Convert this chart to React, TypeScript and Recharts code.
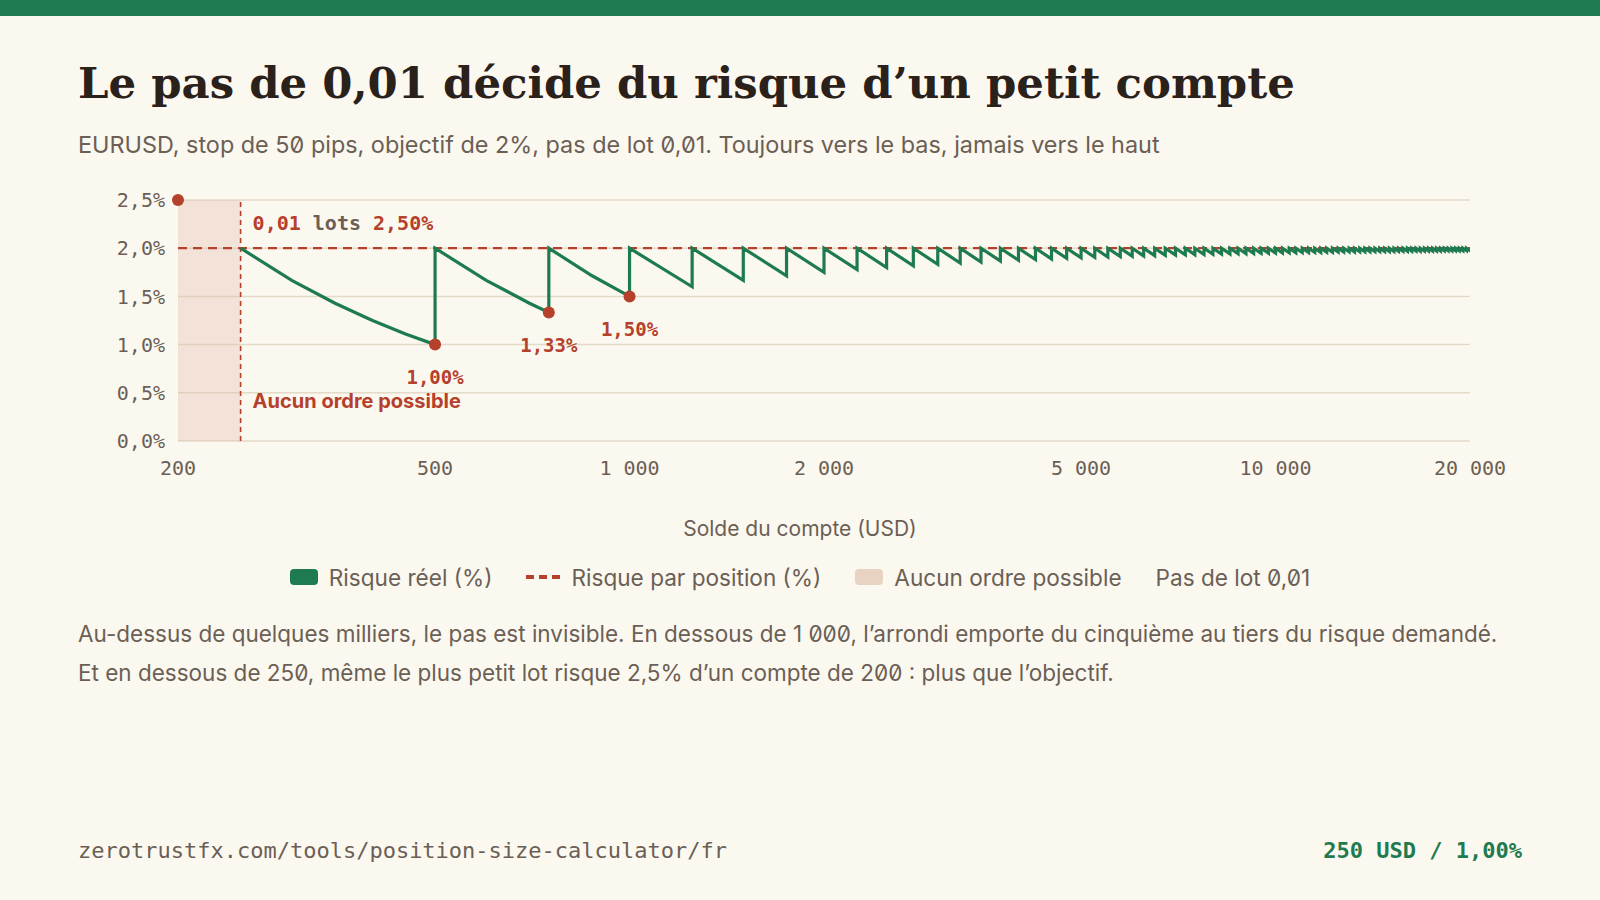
import {
  CartesianGrid,
  Line,
  LineChart,
  ReferenceArea,
  ReferenceDot,
  ReferenceLine,
  XAxis,
  YAxis,
} from 'recharts'

const BG = '#fbf8f0'
const GREEN = '#1e7b4f'
const RED = '#b5402b'
const INK = '#2a211b'
const MUTED = '#6b5f55'
const GRID = '#e4dac8'
const MONO = '"DejaVu Sans Mono", "Liberation Mono", monospace'
const SANS = 'Inter, "Noto Sans", sans-serif'

// target risk per position (%)
const TARGET_RISK = 2
// 0.01 lot on a 200 USD account
const MIN_LOT_RISK = 2.5

// balances where the lot count steps up by 0.01
const TOOTH_START = [
  250, 500, 750, 1000, 1250, 1500, 1750, 2000, 2250, 2500,
  2750, 3000, 3250, 3500, 3750, 4000, 4250, 4500, 4750, 5000,
  5250, 5500, 5750, 6000, 6250, 6500, 6750, 7000, 7250, 7500,
  7750, 8000, 8250, 8500, 8750, 9000, 9250, 9500, 9750, 10000,
  10250, 10500, 10750, 11000, 11250, 11500, 11750, 12000, 12250, 12500,
  12750, 13000, 13250, 13500, 13750, 14000, 14250, 14500, 14750, 15000,
  15250, 15500, 15750, 16000, 16250, 16500, 16750, 17000, 17250, 17500,
  17750, 18000, 18250, 18500, 18750, 19000, 19250, 19500, 19750, 20000,
]

// real risk just before the next step (%)
const TOOTH_LOW = [
  1.0, 1.333, 1.5, 1.6, 1.667, 1.714, 1.75, 1.778, 1.8, 1.818,
  1.833, 1.846, 1.857, 1.867, 1.875, 1.882, 1.889, 1.895, 1.9, 1.905,
  1.909, 1.913, 1.917, 1.92, 1.923, 1.926, 1.929, 1.931, 1.933, 1.935,
  1.938, 1.939, 1.941, 1.943, 1.944, 1.946, 1.947, 1.949, 1.95, 1.951,
  1.952, 1.953, 1.955, 1.956, 1.957, 1.957, 1.958, 1.959, 1.96, 1.961,
  1.962, 1.962, 1.963, 1.964, 1.964, 1.965, 1.966, 1.966, 1.967, 1.967,
  1.968, 1.968, 1.969, 1.969, 1.97, 1.97, 1.971, 1.971, 1.971, 1.972,
  1.972, 1.973, 1.973, 1.973, 1.974, 1.974, 1.974, 1.975, 1.975,
]

// extra points on the first, wider teeth so the curve bends
const CURVE_BALANCE = [300, 350, 400, 450, 600, 700, 875]
const CURVE_RISK = [1.667, 1.429, 1.25, 1.111, 1.667, 1.429, 1.714]

const MARK_BALANCE = [500, 750, 1000]
const MARK_RISK = [1.0, 1.333, 1.5]
const MARK_LABEL = ['1,00%', '1,33%', '1,50%']

const X_TICKS = [200, 500, 1000, 2000, 5000, 10000, 20000]
const X_LABELS = ['200', '500', '1 000', '2 000', '5 000', '10 000', '20 000']
const Y_TICKS = [0, 0.5, 1, 1.5, 2, 2.5]

const SERIES: { x: number; y: number }[] = []
for (let i = 0; i < TOOTH_LOW.length; i++) {
  const a = TOOTH_START[i]
  const b = TOOTH_START[i + 1]
  SERIES.push({ x: a, y: TARGET_RISK })
  CURVE_BALANCE.forEach((c, j) => {
    if (c > a && c < b) SERIES.push({ x: c, y: CURVE_RISK[j] })
  })
  SERIES.push({ x: b, y: TOOTH_LOW[i] })
}
SERIES.push({ x: TOOTH_START[TOOTH_START.length - 1], y: TARGET_RISK })

const pct = (v: number) => `${v.toFixed(1).replace('.', ',')}%`

function ZoneLabel(props: any) {
  const vb = props.viewBox
  if (!vb) return null
  return (
    <g>
      <text x={vb.x + 12} y={vb.y + 30} fontFamily={MONO} fontSize={20} fontWeight={700}>
        <tspan fill={RED}>0,01</tspan>
        <tspan fill={MUTED}> lots </tspan>
        <tspan fill={RED}>2,50%</tspan>
      </text>
      <text x={vb.x + 12} y={vb.y + vb.height - 33} fontFamily={SANS} fontSize={20} fontWeight={700} fill={RED}>
        Aucun ordre possible
      </text>
    </g>
  )
}

function RiskChart() {
  return (
    <LineChart width={1600} height={310} margin={{ top: 20, right: 130, bottom: 0, left: 0 }}>
      <ReferenceArea x1={200} x2={250} y1={0} y2={2.5} fill="#e1b9ab" fillOpacity={0.35} stroke="none" />
      <CartesianGrid stroke={GRID} strokeWidth={1.5} vertical={false} />
      <XAxis
        type="number"
        dataKey="x"
        scale="log"
        domain={[200, 20000]}
        allowDataOverflow
        ticks={X_TICKS}
        tickFormatter={(v) => X_LABELS[X_TICKS.indexOf(v)] ?? String(v)}
        tick={{ fill: MUTED, fontSize: 20, fontFamily: MONO }}
        tickLine={false}
        axisLine={false}
        tickSize={0}
        tickMargin={20}
        height={49}
      />
      <YAxis
        type="number"
        domain={[0, 2.5]}
        ticks={Y_TICKS}
        tickFormatter={pct}
        tick={{ fill: MUTED, fontSize: 20, fontFamily: MONO }}
        tickLine={false}
        axisLine={false}
        tickSize={0}
        tickMargin={13}
        width={178}
      />
      <ReferenceLine y={TARGET_RISK} stroke={RED} strokeWidth={2.2} strokeDasharray="9 6" />
      <ReferenceLine x={250} stroke={RED} strokeWidth={1.6} strokeDasharray="5 4" label={ZoneLabel} />
      <Line
        data={SERIES}
        dataKey="y"
        type="linear"
        stroke={GREEN}
        strokeWidth={3.2}
        dot={false}
        isAnimationActive={false}
      />
      <ReferenceDot x={200} y={MIN_LOT_RISK} r={6} fill={RED} stroke="none" ifOverflow="visible" />
      {MARK_BALANCE.map((b, i) => (
        <ReferenceDot
          key={b}
          x={b}
          y={MARK_RISK[i]}
          r={6}
          fill={RED}
          stroke="none"
          label={{
            value: MARK_LABEL[i],
            position: 'bottom',
            offset: 20,
            fill: RED,
            fontSize: 19,
            fontWeight: 700,
            fontFamily: MONO,
          }}
        />
      ))}
    </LineChart>
  )
}

function Swatch({ color }: { color: string }) {
  return <span style={{ display: 'inline-block', width: 28, height: 16, borderRadius: 4, background: color }} />
}

export default function App() {
  const text = { fontFamily: SANS, fontFeatureSettings: '"zero"' } as const
  return (
    <div style={{ position: 'absolute', left: 0, top: 0, width: 1600, height: 900, background: BG, overflow: 'hidden' }}>
      <div style={{ position: 'absolute', left: 0, top: 0, width: 1600, height: 16, background: GREEN }} />
      <div
        style={{
          position: 'absolute', left: 78, top: 61, fontFamily: '"DejaVu Serif", serif', fontWeight: 700,
          fontSize: 43.4, lineHeight: 1, color: INK, whiteSpace: 'nowrap',
        }}
      >
        Le pas de 0,01 décide du risque d’un petit compte
      </div>
      <div style={{ ...text, position: 'absolute', left: 78, top: 133, fontSize: 23.4, lineHeight: 1, color: MUTED, whiteSpace: 'nowrap' }}>
        EURUSD, stop de 50 pips, objectif de 2%, pas de lot 0,01. Toujours vers le bas, jamais vers le haut
      </div>
      <div style={{ position: 'absolute', left: 0, top: 180 }}>
        <RiskChart />
      </div>
      <div style={{ ...text, position: 'absolute', left: 0, width: 1600, top: 518, textAlign: 'center', fontSize: 21, lineHeight: 1, color: MUTED }}>
        Solde du compte (USD)
      </div>
      <div
        style={{
          ...text, position: 'absolute', left: 0, width: 1600, top: 566, height: 22, display: 'flex',
          justifyContent: 'center', alignItems: 'center', gap: 34, fontSize: 22.6, color: MUTED,
        }}
      >
        <span style={{ display: 'flex', alignItems: 'center', gap: 11 }}>
          <Swatch color={GREEN} />Risque réel (%)
        </span>
        <span style={{ display: 'flex', alignItems: 'center', gap: 11 }}>
          <svg width={34} height={6}>
            <line x1={0} y1={3} x2={34} y2={3} stroke={RED} strokeWidth={4} strokeDasharray="8 5" />
          </svg>
          Risque par position (%)
        </span>
        <span style={{ display: 'flex', alignItems: 'center', gap: 11 }}>
          <Swatch color="#e8d3c2" />Aucun ordre possible
        </span>
        <span>Pas de lot 0,01</span>
      </div>
      <div style={{ ...text, position: 'absolute', left: 78, top: 615, fontSize: 22.5, lineHeight: '38.6px', color: MUTED, whiteSpace: 'nowrap' }}>
        Au-dessus de quelques milliers, le pas est invisible. En dessous de 1 000, l’arrondi emporte du cinquième au tiers du risque demandé.
        <br />
        Et en dessous de 250, même le plus petit lot risque 2,5% d’un compte de 200 : plus que l’objectif.
      </div>
      <div style={{ position: 'absolute', left: 78, top: 840, fontFamily: MONO, fontSize: 22, lineHeight: 1, color: MUTED, whiteSpace: 'nowrap' }}>
        zerotrustfx.com/tools/position-size-calculator/fr
      </div>
      <div
        style={{
          position: 'absolute', right: 78, top: 840, fontFamily: MONO, fontSize: 22, lineHeight: 1, fontWeight: 700,
          color: GREEN, whiteSpace: 'nowrap',
        }}
      >
        250 USD / 1,00%
      </div>
    </div>
  )
}
